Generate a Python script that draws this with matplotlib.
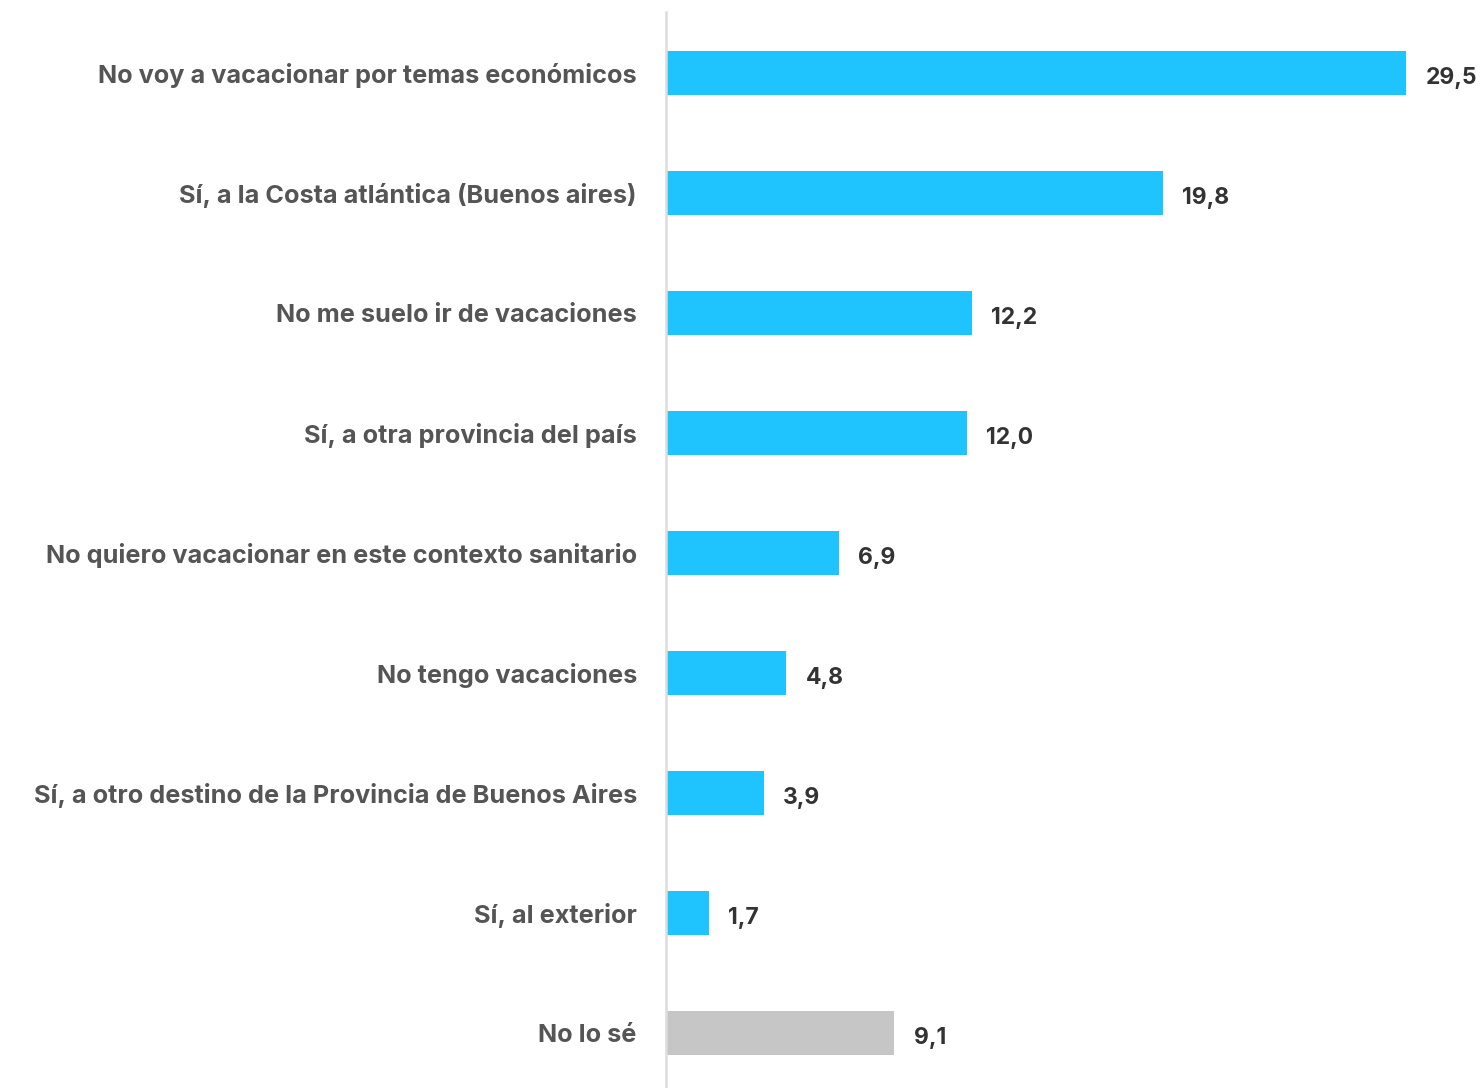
import matplotlib
matplotlib.use("Agg")
import matplotlib.pyplot as plt

categories = [
    "No voy a vacacionar por temas económicos",
    "Sí, a la Costa atlántica (Buenos aires)",
    "No me suelo ir de vacaciones",
    "Sí, a otra provincia del país",
    "No quiero vacacionar en este contexto sanitario",
    "No tengo vacaciones",
    "Sí, a otro destino de la Provincia de Buenos Aires",
    "Sí, al exterior",
    "No lo sé",
]
values = [29.5, 19.8, 12.2, 12.0, 6.9, 4.8, 3.9, 1.7, 9.1]
colors = ["#1fc4ff"] * 8 + ["#c6c6c6"]

plt.rcParams["font.family"] = ["Inter", "DejaVu Sans"]

fig = plt.figure(figsize=(14.84, 10.88), dpi=100)
ax = fig.add_axes([666 / 1484, 0, 818 / 1484, 1076 / 1088])

pos = list(range(len(categories)))
ax.barh(pos, values, height=0.36, color=colors, zorder=2)

ax.set_xlim(0, 818 / 25.08)
ax.set_ylim(8.458, -0.508)

for i, v in zip(pos, values):
    ax.annotate(f"{v:.1f}".replace(".", ","), xy=(v, i), xytext=(14, -3.5),
                textcoords="offset points", ha="left", va="center",
                fontsize=16.5, fontweight="bold", color="#333333")

ax.set_yticks(pos)
ax.set_yticklabels(categories, fontsize=18.2, fontweight="bold", color="#555555")
ax.tick_params(axis="y", length=0, pad=21)
ax.set_xticks([])

for s in ["top", "right", "bottom"]:
    ax.spines[s].set_visible(False)
ax.spines["left"].set_color("#dcdcdc")
ax.spines["left"].set_linewidth(1.8)

fig.savefig("out.png", dpi=100)
